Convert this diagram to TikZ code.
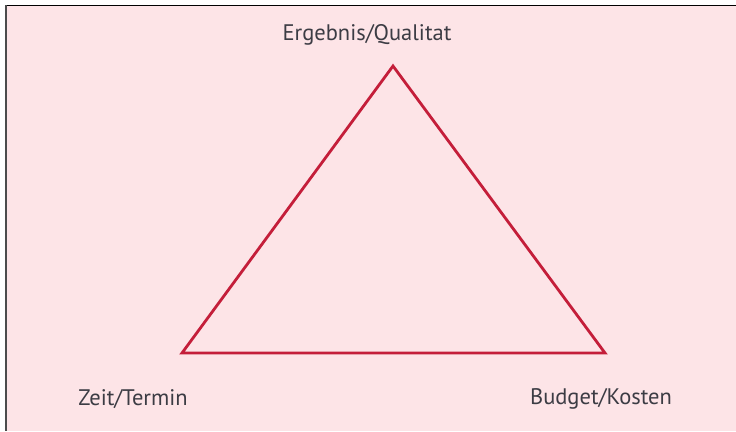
\documentclass[tikz,border=0pt]{standalone}
\usepackage{fontspec}
\setmainfont{PT Sans}
\definecolor{bgpink}{HTML}{FDE4E7}
\definecolor{trired}{HTML}{C41E3A}
\definecolor{txtgray}{HTML}{3C3C44}
\begin{document}
\begin{tikzpicture}[x=1pt,y=-1pt,
  lbl/.style={text=txtgray,font=\fontsize{22.5}{26}\selectfont,inner sep=0pt},
  tri/.style={draw=trired,line width=2.8pt,line join=miter}]
\useasboundingbox (0,0) rectangle (736,431);
\fill[white] (0,0) rectangle (736,431);
\fill[bgpink] (5,5) rectangle (736,431);
\draw[black,line width=1.5pt] (5,5.5) -- (736,5.5);
\draw[black!70,line width=2pt] (6,5) -- (6,431);
\coordinate (top) at (393,66);
\coordinate (bl) at (182,353);
\coordinate (br) at (605,353);
\draw[tri] (top) -- (bl) -- (br) -- cycle;
\node[lbl] (q) at (367,35) {Ergebnis/Qualitat};
\node[lbl] (z) at (133,399) {Zeit/Termin};
\node[lbl] (k) at (601,399) {Budget/Kosten};
\end{tikzpicture}
\end{document}
